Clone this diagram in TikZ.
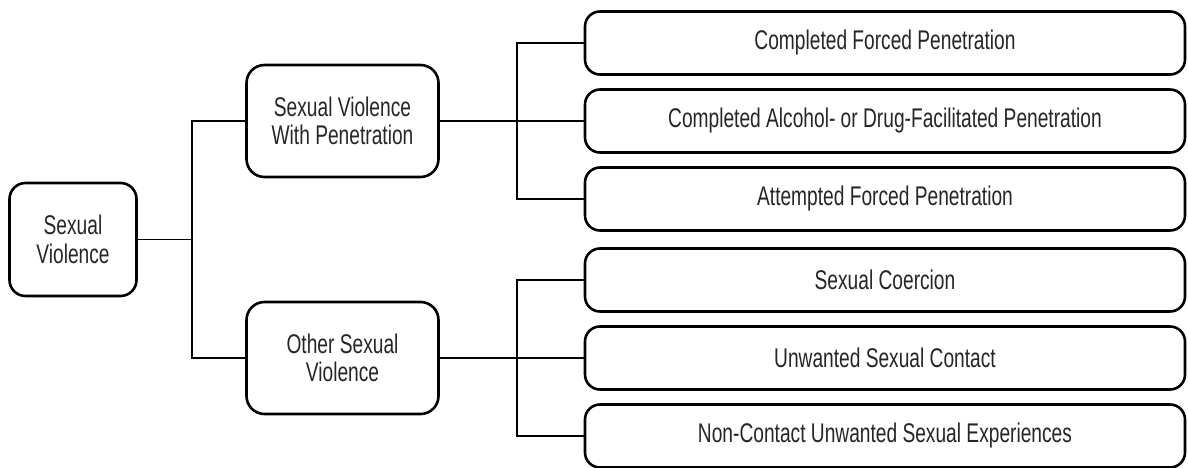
\documentclass[tikz,border=0pt]{standalone}
\usepackage{fontspec}
\setmainfont[FakeStretch=0.71]{Liberation Sans}
\usetikzlibrary{positioning}

\begin{document}
\begin{tikzpicture}[x=1pt, y=-1pt,
        every node/.style={font=\fontsize{27}{28.5}\selectfont, align=center, text=black!85},
        box/.style={draw, fill=white, line width=2.6pt, rounded corners=16pt, inner sep=0pt},
        rootbox/.style={box, minimum width=127pt, minimum height=113pt},
        midbox/.style={box, rounded corners=18pt, minimum width=192pt, minimum height=112pt},
        leafbox/.style={box, rounded corners=15pt, minimum width=600pt, minimum height=63pt},
        link/.style={line width=1.6pt}
    ]
    \useasboundingbox (0,0) rectangle (1188,468);

    % Wurzel
    \node[rootbox] (root) at (73,239.5) {Sexual\\Violence};

    % Zweite Ebene
    \node[midbox] (pen) at (342.5,121) {Sexual Violence\\With Penetration};
    \node[midbox] (other) at (342.5,358) {Other Sexual\\Violence};

    % Dritte Ebene (oben)
    \node[leafbox] (forced) at (885,43) {Completed Forced Penetration};
    \node[leafbox] (alcohol) at (885,121) {Completed Alcohol- or Drug-Facilitated Penetration};
    \node[leafbox] (attempt) at (885,199) {Attempted Forced Penetration};

    % Dritte Ebene (unten)
    \node[leafbox] (coercion) at (885,280) {Sexual Coercion};
    \node[leafbox] (contact) at (885,358) {Unwanted Sexual Contact};
    \node[leafbox] (noncontact) at (885,436) {Non-Contact Unwanted Sexual Experiences};

    % Verzweigungspunkte
    \coordinate (trunk) at (192,239.5);
    \coordinate (splitpen) at (517,121);
    \coordinate (splitother) at (517,358);

    % Verbindungen
    \draw[link] (root.east) -- (trunk);
    \draw[link] (pen.west) -| (trunk) |- (other.west);

    \draw[link] (pen.east) -- (alcohol.west);
    \draw[link] (forced.west) -| (splitpen) |- (attempt.west);

    \draw[link] (other.east) -- (contact.west);
    \draw[link] (coercion.west) -| (splitother) |- (noncontact.west);

\end{tikzpicture}
\end{document}
